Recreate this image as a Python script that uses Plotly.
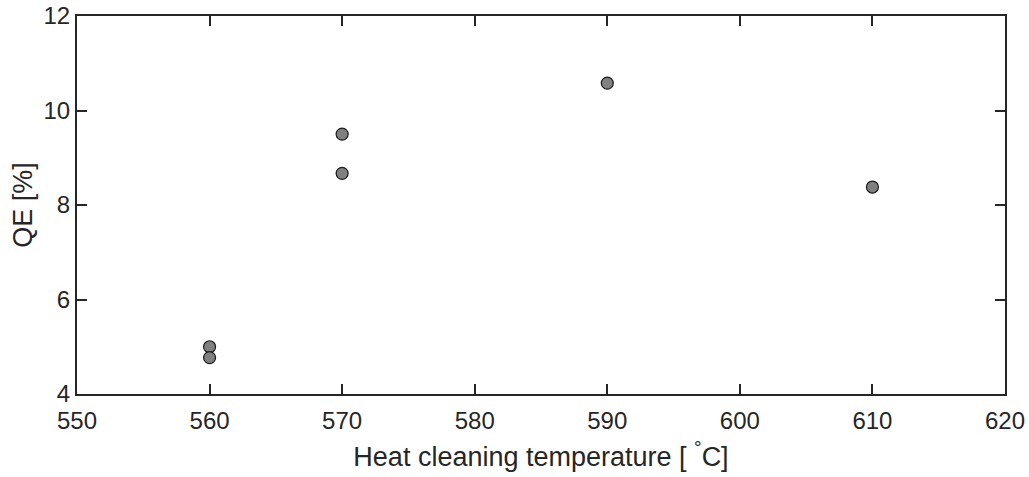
import plotly.graph_objects as go

temperature = [560, 560, 570, 570, 590, 610]
qe = [5.00, 4.77, 9.50, 8.67, 10.58, 8.38]
x_ticks = [550, 560, 570, 580, 590, 600, 610, 620]
y_ticks = [4, 6, 8, 10, 12]

FONT = "Liberation Sans, Arial, sans-serif"
INK = "#262626"

fig = go.Figure()
fig.add_trace(go.Scatter(
    x=temperature, y=qe, mode="markers",
    marker=dict(size=12, color="#808080", line=dict(color="#1a1a1a", width=1.2)),
    showlegend=False,
))

axis_common = dict(
    showgrid=False, zeroline=False, showline=True, linecolor=INK, linewidth=2,
    mirror="ticks", ticks="inside", ticklen=10, tickwidth=2, tickcolor=INK,
    tickfont=dict(family=FONT, size=24, color=INK), automargin=False,
)
fig.update_xaxes(range=[550, 620], tickvals=x_ticks, ticklabelstandoff=4, **axis_common,
                 title=dict(text="Heat cleaning temperature [ <sup>°</sup>C]",
                            font=dict(family=FONT, size=27, color=INK),
                            standoff=14))
fig.update_yaxes(range=[4, 12], tickvals=y_ticks, **axis_common,
                 title=dict(text="QE [%]",
                            font=dict(family=FONT, size=27, color=INK),
                            standoff=3))
fig.update_layout(
    width=1029, height=477,
    margin=dict(l=77, r=24, t=16, b=83),
    plot_bgcolor="white", paper_bgcolor="white",
)
fig.write_html("out.html")
